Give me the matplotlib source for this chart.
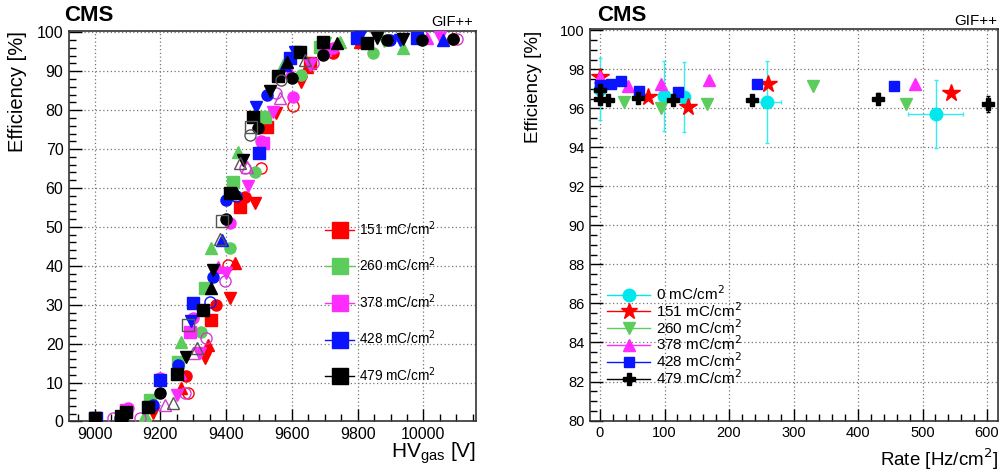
#!/usr/bin/env python
"""
Efficiency vs HV (left) and efficiency vs background rate (right)
for RPC chambers at GIF++ after several integrated charges.
"""
import matplotlib
matplotlib.use("Agg")
import matplotlib.pyplot as plt
from matplotlib.lines import Line2D
from matplotlib.ticker import MultipleLocator

plt.rcParams["font.family"] = ["Liberation Sans", "DejaVu Sans"]

# ---------------------------------------------------------------- left data
# colours of the integrated charge groups
RED = "#ff0000"
GREEN = "#5ccc5c"
MAGENTA = "#ff2cff"
BLUE = "#0a14ff"
BLACK = "#000000"
GREY = "#555555"
OPEN_MAG = "#d23cd2"

charges_left = ["151", "260", "378", "428", "479"]
colors_left = [RED, GREEN, MAGENTA, BLUE, BLACK]

# 151 mC/cm2
red_sq_hv = [9355, 9442, 9523, 9655]
red_sq_eff = [26.1, 55.0, 75.8, 92.0]
red_ci_hv = [9005, 9279, 9370, 9457, 9726]
red_ci_eff = [0.9, 11.6, 30.0, 57.8, 94.6]
red_dn_hv = [9178, 9335, 9411, 9487, 9553, 9629]
red_dn_eff = [2.1, 16.3, 31.7, 56.1, 79.2, 87.3]
red_up_hv = [9264, 9345, 9426, 9645, 9807]
red_up_eff = [8.6, 19.7, 40.7, 91.2, 97.6]
red_oc_hv = [9284, 9406, 9507, 9604, 10091]
red_oc_eff = [7.3, 40.2, 65.1, 81.1, 98.2]

# 260 mC/cm2
grn_sq_hv = [9167, 9254, 9335, 9421, 9518, 9685]
grn_sq_eff = [5.6, 15.4, 34.2, 61.6, 78.3, 96.3]
grn_ci_hv = [9086, 9325, 9411, 9487, 9629, 9848]
grn_ci_eff = [1.7, 23.1, 44.5, 64.2, 89.0, 94.6]
grn_up_hv = [9152, 9264, 9355, 9436, 9574, 9746, 9939]
grn_up_eff = [1.7, 20.5, 44.5, 69.3, 91.6, 97.6, 95.9]
grn_dn_hv = [9700, 9880]
grn_dn_eff = [97.3, 97.8]

# 378 mC/cm2
mag_sq_hv = [9000, 9095, 9290, 9513, 9700]
mag_sq_eff = [1.0, 3.0, 23.0, 71.5, 95.5]
mag_ci_hv = [9000, 9101, 9198, 9300, 9411, 9507, 9604, 9726]
mag_ci_eff = [0.9, 3.4, 11.1, 26.5, 51.0, 72.0, 83.5, 95.9]
mag_dn_hv = [9249, 9320, 9401, 9467, 9543, 9655, 10051]
mag_dn_eff = [6.8, 17.6, 38.1, 60.4, 79.6, 91.6, 98.9]
mag_up_hv = [9259, 9376, 9594, 10010]
mag_up_eff = [12.4, 39.8, 89.9, 98.5]
mag_oc_hv = [9056, 9137, 9274, 9340, 9396, 9457, 9553, 9665, 10101]
mag_oc_eff = [0.9, 0.9, 7.3, 21.4, 36.0, 65.1, 84.3, 92.0, 98.2]
mag_ot_hv = [9213, 9300, 9462, 9563]
mag_ot_eff = [4.3, 17.6, 65.5, 83.0]

# 428 mC/cm2
blu_sq_hv = [9005, 9198, 9300, 9499, 9594, 9797, 9980]
blu_sq_eff = [0.9, 10.7, 30.4, 68.9, 93.3, 98.5, 98.5]
blu_ci_hv = [9178, 9254, 9360, 9401, 9523, 9898]
blu_ci_eff = [4.3, 14.6, 37.2, 57.0, 83.9, 98.0]
blu_dn_hv = [9294, 9492, 9609, 9807, 9929]
blu_dn_eff = [25.7, 80.9, 95.0, 99.0, 98.0]
blu_up_hv = [9386, 9579, 10061]
blu_up_eff = [46.7, 91.6, 98.0]
blu_oc_hv = [9076, 9350, 9431]
blu_oc_eff = [0.9, 30.8, 58.0]

# 479 mC/cm2
blk_sq_hv = [9000, 9080, 9095, 9162, 9249, 9330, 9411, 9482, 9558, 9624,
             9695, 9827]
blk_sq_eff = [0.8, 1.5, 2.5, 3.8, 12.2, 28.7, 58.6, 78.3, 88.8, 95.0,
              97.6, 97.2]
blk_ci_hv = [9086, 9198, 9401, 9497, 9599, 9695, 9888, 9995, 10091]
blk_ci_eff = [1.3, 7.3, 52.0, 75.3, 88.2, 94.2, 98.0, 98.0, 98.2]
blk_dn_hv = [9279, 9360, 9452, 9533, 9858, 9939]
blk_dn_eff = [16.7, 39.0, 67.2, 84.8, 98.5, 98.2]
blk_up_hv = [9355, 9431, 9584, 9736]
blk_up_eff = [34.2, 58.6, 92.5, 97.2]
blk_ot_hv = [9239, 9310, 9381, 9442, 9640]
blk_ot_eff = [4.7, 18.8, 47.0, 66.3, 92.9]
blk_os_hv = [9284, 9386, 9477]
blk_os_eff = [24.8, 51.4, 75.8]
blk_oc_hv = [9472, 9568]
blk_oc_eff = [73.6, 87.8]

# --------------------------------------------------------------- right data
charges_right = ["0", "151", "260", "378", "428", "479"]

rate_0 = [0.0, 99.7, 130.6, 258.2, 520.5]
eff_0 = [97.0, 96.64, 96.59, 96.33, 95.7]
eff_0_err = [1.6, 1.8, 1.8, 2.1, 1.75]
rate_0_err = [0.0, 0.0, 0.0, 23.0, 43.0]

rate_151 = [0.0, 74.9, 135.8, 260.8, 544.8]
eff_151 = [97.58, 96.59, 96.07, 97.24, 96.76]

rate_260 = [37.2, 94.5, 166.3, 330.5, 475.1]
eff_260 = [96.33, 95.99, 96.21, 97.13, 96.21]

rate_378 = [0.0, 43.9, 95.0, 168.9, 488.0]
eff_378 = [97.58, 97.13, 97.27, 97.47, 97.24]

rate_428 = [0.0, 17.0, 32.5, 60.9, 121.4, 242.7, 455.5]
eff_428 = [97.18, 97.27, 97.39, 96.89, 96.83, 97.27, 97.13]

rate_479 = [0.0, 0.0, 11.9, 59.4, 113.6, 235.0, 431.2, 601.6]
eff_479 = [96.96, 96.47, 96.42, 96.54, 96.45, 96.45, 96.5, 96.21]
eff_479_err = [0.25, 0.1, 0.1, 0.1, 0.1, 0.1, 0.3, 0.4]


def root_style(ax, fsize):
    """Give an axes the look of a ROOT canvas"""
    ax.tick_params(which="both", direction="in", top=False, right=False,
                   labelsize=fsize, pad=4)
    ax.tick_params(which="major", length=9, width=1.0)
    ax.tick_params(which="minor", length=5, width=1.0)
    ax.grid(True, which="major", color="#777777", linestyle=(0, (1, 2)),
            linewidth=0.9)
    ax.set_axisbelow(True)
    for sp in ax.spines.values():
        sp.set_linewidth(1.2)
        sp.set_color("#333333")


def pts(ax, x, y, color, marker, filled=True, size=8):
    """Draw one series of markers"""
    if filled:
        ax.plot(x, y, linestyle="none", marker=marker, ms=size, color=color,
                mec=color, zorder=3)
    else:
        ax.plot(x, y, linestyle="none", marker=marker, ms=size, mfc="none",
                mec=color, mew=1.0, zorder=3)


fig = plt.figure(figsize=(10, 4.72), dpi=100)

# ------------------------------------------------------------- left panel
ax1 = fig.add_axes([0.069, 0.107, 0.407, 0.827])
root_style(ax1, 11.5)

pts(ax1, red_sq_hv, red_sq_eff, RED, "s")
pts(ax1, red_ci_hv, red_ci_eff, RED, "o")
pts(ax1, red_dn_hv, red_dn_eff, RED, "v")
pts(ax1, red_up_hv, red_up_eff, RED, "^")
pts(ax1, red_oc_hv, red_oc_eff, RED, "o", filled=False)

pts(ax1, grn_sq_hv, grn_sq_eff, GREEN, "s")
pts(ax1, grn_ci_hv, grn_ci_eff, GREEN, "o")
pts(ax1, grn_up_hv, grn_up_eff, GREEN, "^")
pts(ax1, grn_dn_hv, grn_dn_eff, GREEN, "v")

pts(ax1, mag_sq_hv, mag_sq_eff, MAGENTA, "s")
pts(ax1, mag_ci_hv, mag_ci_eff, MAGENTA, "o")
pts(ax1, mag_dn_hv, mag_dn_eff, MAGENTA, "v")
pts(ax1, mag_up_hv, mag_up_eff, MAGENTA, "^")
pts(ax1, mag_oc_hv, mag_oc_eff, OPEN_MAG, "o", filled=False)
pts(ax1, mag_ot_hv, mag_ot_eff, OPEN_MAG, "^", filled=False)

pts(ax1, blu_sq_hv, blu_sq_eff, BLUE, "s")
pts(ax1, blu_ci_hv, blu_ci_eff, BLUE, "o")
pts(ax1, blu_dn_hv, blu_dn_eff, BLUE, "v")
pts(ax1, blu_up_hv, blu_up_eff, BLUE, "^")
pts(ax1, blu_oc_hv, blu_oc_eff, BLUE, "o", filled=False)

pts(ax1, blk_sq_hv, blk_sq_eff, BLACK, "s")
pts(ax1, blk_ci_hv, blk_ci_eff, BLACK, "o")
pts(ax1, blk_dn_hv, blk_dn_eff, BLACK, "v")
pts(ax1, blk_up_hv, blk_up_eff, BLACK, "^")
pts(ax1, blk_ot_hv, blk_ot_eff, GREY, "^", filled=False)
pts(ax1, blk_os_hv, blk_os_eff, GREY, "s", filled=False)
pts(ax1, blk_oc_hv, blk_oc_eff, GREY, "o", filled=False)

ax1.set_xlim(8922, 10160)
ax1.set_ylim(0, 100.3)
ax1.xaxis.set_major_locator(MultipleLocator(200))
ax1.xaxis.set_minor_locator(MultipleLocator(50))
ax1.yaxis.set_major_locator(MultipleLocator(10))
ax1.yaxis.set_minor_locator(MultipleLocator(2))

handles = [Line2D([], [], color=c, marker="s", ms=11, lw=1.0)
           for c in colors_left]
labels = [q + " mC/cm$^2$" for q in charges_left]
ax1.legend(handles, labels, loc="upper left", bbox_to_anchor=(0.6, 0.55),
           frameon=False, fontsize=9.8, labelspacing=1.32,
           handlelength=2.1, handletextpad=0.4)

fig.text(0.064, 0.968, "CMS", fontsize=16, fontweight="bold",
         ha="left", va="center")
fig.text(0.473, 0.953, "GIF++", fontsize=10.5, ha="right", va="center")
fig.text(0.018, 0.935, "Efficiency [%]", fontsize=14.5, rotation=90,
         ha="center", va="top")
fig.text(0.476, 0.04, "HV$_{\\mathregular{gas}}$ [V]", fontsize=15,
         ha="right", va="center")

# ------------------------------------------------------------ right panel
ax2 = fig.add_axes([0.590, 0.109, 0.408, 0.829])
root_style(ax2, 10.5)

ax2.errorbar(rate_0, eff_0, yerr=eff_0_err, xerr=rate_0_err,
             fmt="o", ms=9, color="#00e8ec", ecolor="#33eef0",
             elinewidth=1.0, capsize=1.5, zorder=3)
ax2.plot(rate_151, eff_151, linestyle="none", marker="*", ms=13,
         color=RED, zorder=4)
ax2.plot(rate_260, eff_260, linestyle="none", marker="v", ms=8,
         color=GREEN, zorder=4)
ax2.plot(rate_378, eff_378, linestyle="none", marker="^", ms=8.5,
         color=MAGENTA, zorder=4)
ax2.plot(rate_428, eff_428, linestyle="none", marker="s", ms=7,
         color=BLUE, zorder=4)
ax2.errorbar(rate_479, eff_479, yerr=eff_479_err, fmt="P", ms=9,
             color=BLACK, elinewidth=1.0, capsize=1.5, zorder=5)

ax2.set_xlim(-15.5, 617)
ax2.set_ylim(80, 100.05)
ax2.xaxis.set_major_locator(MultipleLocator(100))
ax2.xaxis.set_minor_locator(MultipleLocator(20))
ax2.yaxis.set_major_locator(MultipleLocator(2))
ax2.yaxis.set_minor_locator(MultipleLocator(0.5))

styles_right = [("o", "#00e8ec", 9), ("*", RED, 12), ("v", GREEN, 8),
                ("^", MAGENTA, 8), ("s", BLUE, 7), ("P", BLACK, 8)]
handles = [Line2D([], [], color=c, marker=m, ms=s, lw=1.0)
           for m, c, s in styles_right]
labels = [q + " mC/cm$^2$" for q in charges_right]
ax2.legend(handles, labels, loc="upper left", bbox_to_anchor=(0.02, 0.372),
           frameon=False, fontsize=11, labelspacing=-0.12,
           handlelength=2.8, handletextpad=0.4, borderaxespad=0.2)

fig.text(0.597, 0.968, "CMS", fontsize=16, fontweight="bold",
         ha="left", va="center")
fig.text(0.997, 0.955, "GIF++", fontsize=11, ha="right", va="center")
fig.text(0.533, 0.935, "Efficiency [%]", fontsize=13.5, rotation=90,
         ha="center", va="top")
fig.text(0.998, 0.026, "Rate [Hz/cm$^2$]", fontsize=13.5,
         ha="right", va="center")

fig.savefig("out.png", dpi=100)
